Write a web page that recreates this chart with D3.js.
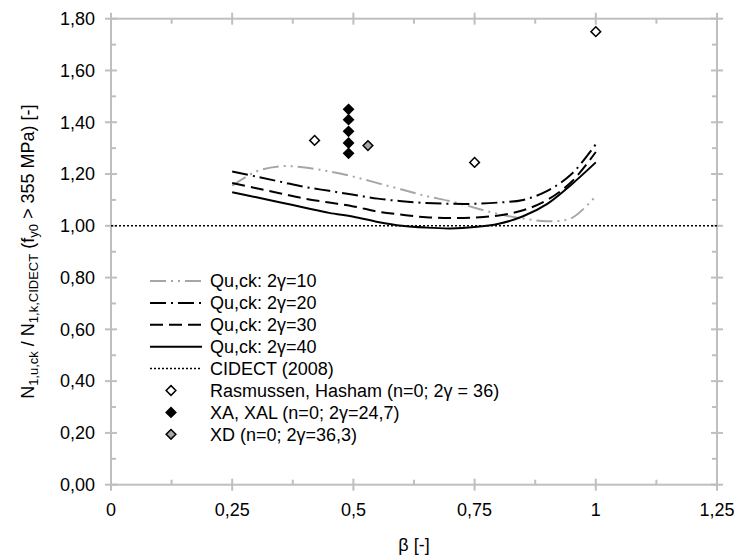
<!DOCTYPE html>
<html>
<head>
<meta charset="utf-8">
<script src="https://cdn.jsdelivr.net/npm/d3@7"></script>
<style>
  html, body { margin: 0; padding: 0; background: #fff; }
  svg { display: block; font-family: "Liberation Sans", Arial, sans-serif; }
</style>
</head>
<body>
<svg id="chart" width="741" height="556"></svg>
<script>
// β sample positions of the Qu,ck curves
const betaGrid = [0.25, 0.30, 0.35, 0.40, 0.45, 0.50, 0.55, 0.60, 0.65, 0.70, 0.75, 0.80, 0.85, 0.90, 0.95, 1.00];

// Qu,ck ratio curves for each 2γ
const qu10 = [1.155, 1.210, 1.230, 1.225, 1.210, 1.190, 1.165, 1.140, 1.115, 1.095, 1.070, 1.045, 1.028, 1.018, 1.030, 1.115];
const qu20 = [1.210, 1.190, 1.170, 1.150, 1.135, 1.120, 1.105, 1.095, 1.088, 1.085, 1.085, 1.090, 1.100, 1.135, 1.200, 1.315];
const qu30 = [1.165, 1.145, 1.125, 1.105, 1.090, 1.075, 1.055, 1.043, 1.033, 1.030, 1.032, 1.040, 1.060, 1.100, 1.170, 1.285];
const qu40 = [1.130, 1.110, 1.090, 1.070, 1.050, 1.035, 1.015, 1.000, 0.993, 0.990, 0.995, 1.008, 1.037, 1.085, 1.160, 1.245];

// CIDECT (2008) reference level
const cidect = [[0, 1.0], [1.25, 1.0]];

// test results
const rasmussenBeta = [0.42, 0.75, 1.00];
const rasmussenVal = [1.33, 1.245, 1.75];
const xaBeta = [0.49, 0.49, 0.49, 0.49, 0.49];
const xaVal = [1.45, 1.41, 1.365, 1.32, 1.28];
const xdBeta = [0.53];
const xdVal = [1.31];

// axis ticks
const xTicks = [0, 0.25, 0.5, 0.75, 1, 1.25];
const xTickLabels = ["0", "0,25", "0,5", "0,75", "1", "1,25"];
const yTicks = [0, 0.2, 0.4, 0.6, 0.8, 1.0, 1.2, 1.4, 1.6, 1.8];
const yTickLabels = ["0,00", "0,20", "0,40", "0,60", "0,80", "1,00", "1,20", "1,40", "1,60", "1,80"];

const legendLabels = [
  "Qu,ck: 2γ=10", "Qu,ck: 2γ=20", "Qu,ck: 2γ=30", "Qu,ck: 2γ=40", "CIDECT (2008)",
  "Rasmussen, Hasham (n=0; 2γ = 36)", "XA, XAL (n=0; 2γ=24,7)", "XD (n=0; 2γ=36,3)"
];

const svg = d3.select("#chart");
const plotL = 111, plotR = 717, plotT = 18.7, plotB = 484.7;
const axisColor = "#bfbfbf";
const grey = "#a6a6a6";
const fs = 18;

const x = d3.scaleLinear().domain([0, 1.25]).range([plotL, plotR]);
const y = d3.scaleLinear().domain([0, 1.8]).range([plotB, plotT]);

// frame with major (crossing) and minor (inside) ticks
const frame = svg.append("g").attr("stroke", axisColor).attr("stroke-width", 2).attr("fill", "none");
frame.append("rect").attr("x", plotL).attr("y", plotT).attr("width", plotR - plotL).attr("height", plotB - plotT);

const yMinor = d3.range(0.1, 1.8, 0.2);
const xMinor = d3.range(0.125, 1.25, 0.25);
yTicks.forEach(v => {
  frame.append("line").attr("x1", plotL - 6).attr("x2", plotL + 6).attr("y1", y(v)).attr("y2", y(v));
  frame.append("line").attr("x1", plotR - 6).attr("x2", plotR + 6).attr("y1", y(v)).attr("y2", y(v));
});
yMinor.forEach(v => {
  frame.append("line").attr("x1", plotL).attr("x2", plotL + 5).attr("y1", y(v)).attr("y2", y(v));
  frame.append("line").attr("x1", plotR - 5).attr("x2", plotR).attr("y1", y(v)).attr("y2", y(v));
});
xTicks.forEach(v => {
  frame.append("line").attr("x1", x(v)).attr("x2", x(v)).attr("y1", plotB - 6).attr("y2", plotB + 6);
  frame.append("line").attr("x1", x(v)).attr("x2", x(v)).attr("y1", plotT - 6).attr("y2", plotT + 6);
});
xMinor.forEach(v => {
  frame.append("line").attr("x1", x(v)).attr("x2", x(v)).attr("y1", plotB - 5).attr("y2", plotB);
  frame.append("line").attr("x1", x(v)).attr("x2", x(v)).attr("y1", plotT).attr("y2", plotT + 5);
});

// tick labels
svg.append("g").selectAll("text").data(yTicks).join("text")
  .attr("x", plotL - 16).attr("y", d => y(d)).attr("dy", "0.35em")
  .attr("text-anchor", "end").attr("font-size", fs).attr("fill", "#000")
  .text((d, i) => yTickLabels[i]);
svg.append("g").selectAll("text").data(xTicks).join("text")
  .attr("x", d => x(d)).attr("y", plotB + 25).attr("dy", "0.35em")
  .attr("text-anchor", "middle").attr("font-size", fs).attr("fill", "#000")
  .text((d, i) => xTickLabels[i]);

// axis titles
svg.append("text").attr("x", x(0.625)).attr("y", 545).attr("dy", "0.35em")
  .attr("text-anchor", "middle").attr("font-size", fs).text("β [-]");

const yTitle = svg.append("text")
  .attr("transform", `translate(28,${(plotT + plotB) / 2}) rotate(-90)`)
  .attr("text-anchor", "middle").attr("dy", "0.35em").attr("font-size", fs);
const sub = 13;
yTitle.append("tspan").text("N");
yTitle.append("tspan").attr("font-size", sub).attr("dy", 4).text("1,u,ck");
yTitle.append("tspan").attr("dy", -4).text(" / N");
yTitle.append("tspan").attr("font-size", sub).attr("dy", 4).text("1,k,CIDECT");
yTitle.append("tspan").attr("dy", -4).text(" (f");
yTitle.append("tspan").attr("font-size", sub).attr("dy", 4).text("y0");
yTitle.append("tspan").attr("dy", -4).text(" > 355 MPa) [-]");

// line series
const lineStyles = [
  { data: qu10, color: grey, dash: "16,5,2,5,2,5", width: 2 },
  { data: qu20, color: "#000", dash: "16,5,2,5", width: 2 },
  { data: qu30, color: "#000", dash: "13,6", width: 2 },
  { data: qu40, color: "#000", dash: null, width: 2 }
];
const line = d3.line().x(d => x(d[0])).y(d => y(d[1])).curve(d3.curveCatmullRom.alpha(0.5));
const plot = svg.append("g");
lineStyles.forEach(s => {
  plot.append("path")
    .attr("d", line(betaGrid.map((b, i) => [b, s.data[i]])))
    .attr("fill", "none").attr("stroke", s.color).attr("stroke-width", s.width)
    .attr("stroke-dasharray", s.dash);
});
plot.append("path")
  .attr("d", d3.line().x(d => x(d[0])).y(d => y(d[1]))(cidect))
  .attr("fill", "none").attr("stroke", "#000").attr("stroke-width", 1.5)
  .attr("stroke-dasharray", "2,2");

// markers
const diamond = d3.symbol().type(d3.symbolDiamond2).size(60);
function drawPoints(bs, vs, fill) {
  plot.append("g").selectAll("path").data(bs).join("path")
    .attr("d", diamond)
    .attr("transform", (d, i) => `translate(${x(d)},${y(vs[i])})`)
    .attr("fill", fill).attr("stroke", "#000").attr("stroke-width", 1.5);
}
drawPoints(rasmussenBeta, rasmussenVal, "#fff");
drawPoints(xaBeta, xaVal, "#000");
drawPoints(xdBeta, xdVal, grey);

// legend
const legend = svg.append("g");
const lx0 = 150, lx1 = 202, tx = 210, ly0 = 281, lstep = 21.9;
legendLabels.forEach((lab, i) => {
  const ly = ly0 + i * lstep;
  if (i < 4) {
    const s = lineStyles[i];
    legend.append("line").attr("x1", lx0).attr("x2", lx1).attr("y1", ly).attr("y2", ly)
      .attr("stroke", s.color).attr("stroke-width", s.width).attr("stroke-dasharray", s.dash);
  } else if (i === 4) {
    legend.append("line").attr("x1", lx0).attr("x2", lx1).attr("y1", ly).attr("y2", ly)
      .attr("stroke", "#000").attr("stroke-width", 1.5).attr("stroke-dasharray", "2,2");
  } else {
    const fill = i === 5 ? "#fff" : i === 6 ? "#000" : grey;
    legend.append("path").attr("d", diamond).attr("transform", `translate(171,${ly})`)
      .attr("fill", fill).attr("stroke", "#000").attr("stroke-width", 1.5);
  }
  legend.append("text").attr("x", tx).attr("y", ly).attr("dy", "0.35em")
    .attr("font-size", fs).text(lab);
});
</script>
</body>
</html>
